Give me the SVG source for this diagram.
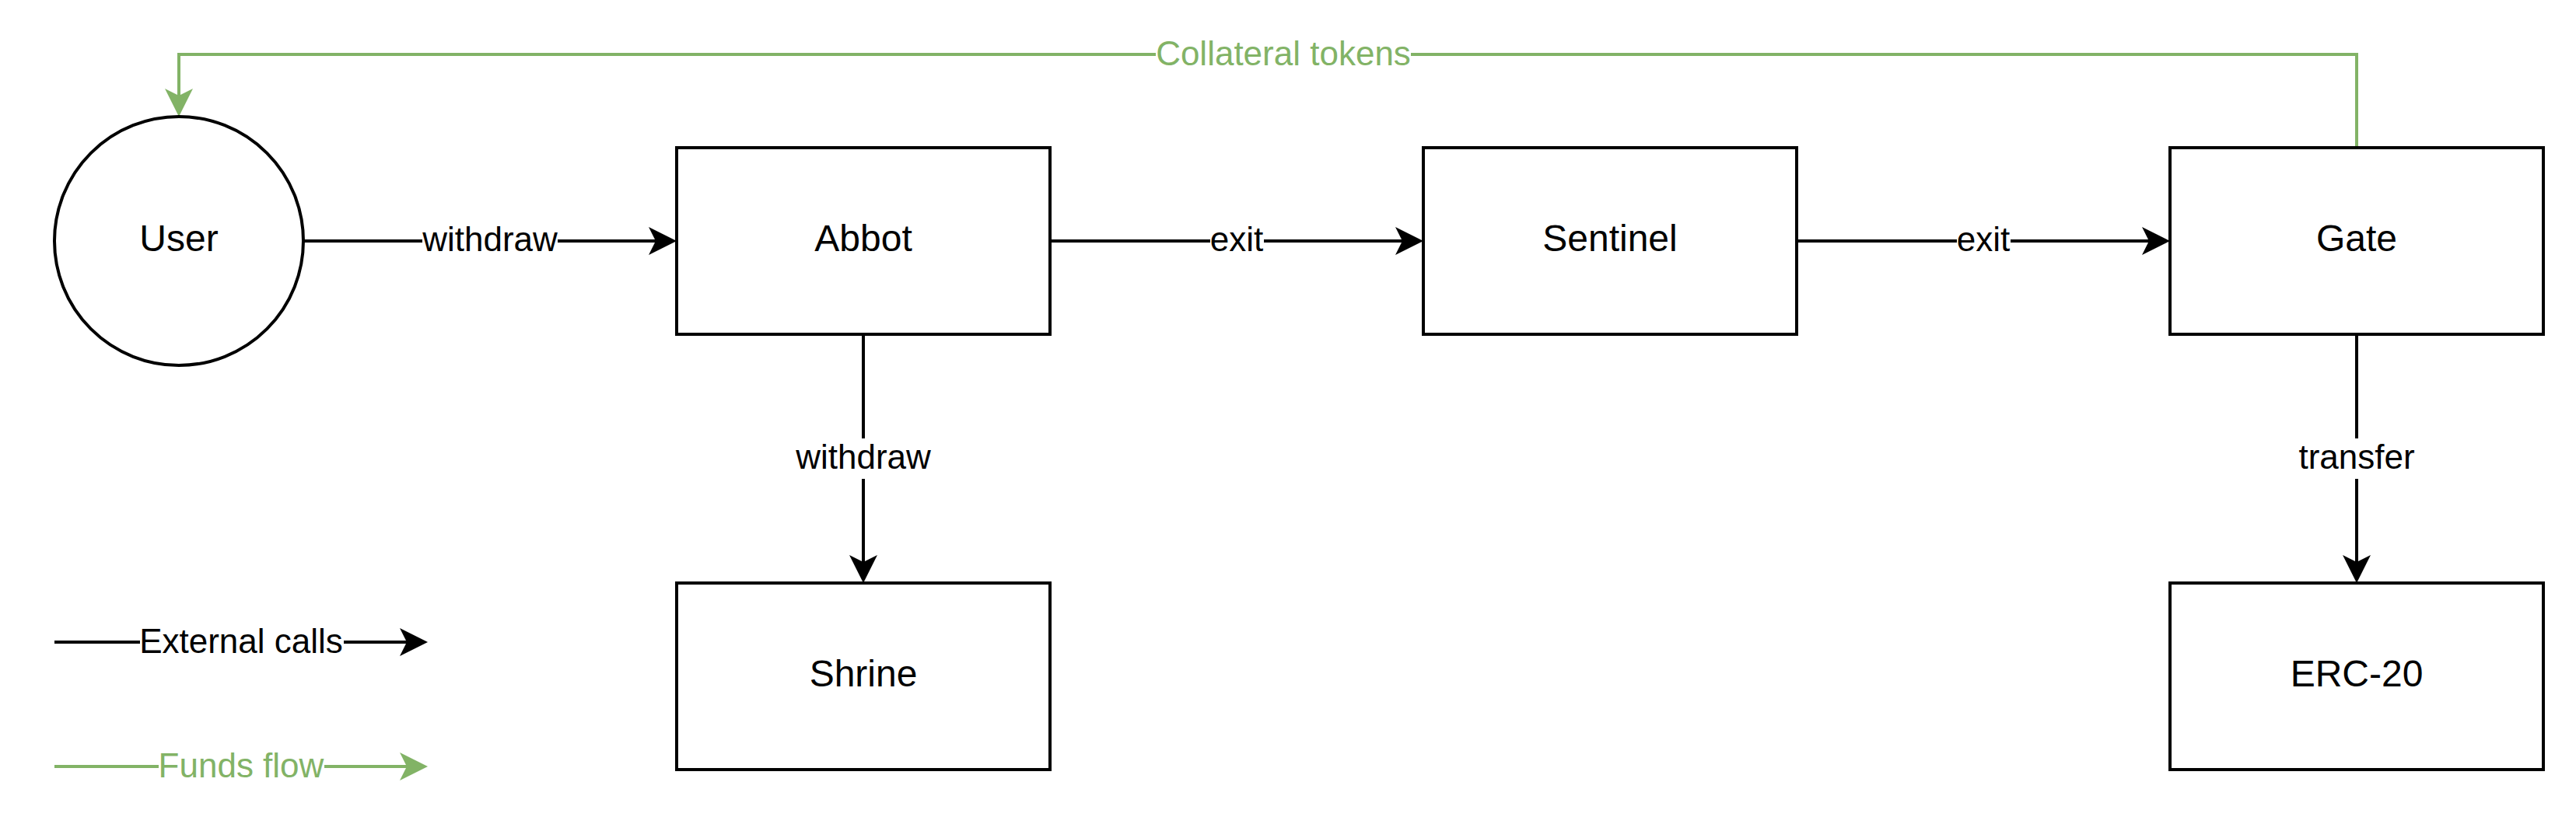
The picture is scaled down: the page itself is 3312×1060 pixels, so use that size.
<svg xmlns="http://www.w3.org/2000/svg" width="3312" height="1060" viewBox="0 0 3312 1060">
<style>
  .node { fill: #ffffff; stroke: #000000; stroke-width: 4; }
  .ntext { font-family: "Liberation Sans", Arial, sans-serif; font-size: 48px; fill: #000000; text-anchor: middle; }
  .edge { fill: none; stroke: #000000; stroke-width: 4; }
  .gedge { fill: none; stroke: #82b366; stroke-width: 4; }
  .etext { font-family: "Liberation Sans", Arial, sans-serif; font-size: 44px; fill: #000000; text-anchor: middle; }
  .gtext { font-family: "Liberation Sans", Arial, sans-serif; font-size: 44px; fill: #82b366; text-anchor: middle; }
  .lbg { fill: #ffffff; stroke: none; }
</style>
<defs>
  <marker id="arrB" markerUnits="userSpaceOnUse" markerWidth="36" markerHeight="36" viewBox="0 0 36 36" refX="9" refY="18" orient="auto">
    <path d="M0,0 L36,18 L0,36 L9,18 Z" fill="#000000"/>
  </marker>
  <marker id="arrG" markerUnits="userSpaceOnUse" markerWidth="36" markerHeight="36" viewBox="0 0 36 36" refX="9" refY="18" orient="auto">
    <path d="M0,0 L36,18 L0,36 L9,18 Z" fill="#82b366"/>
  </marker>
</defs>
<rect x="0" y="0" width="3312" height="1060" fill="#ffffff"/>

<g id="connectors">
  <!-- User -> Abbot -->
  <path class="edge" d="M390,310 L843,310" marker-end="url(#arrB)"/>
  <rect class="lbg" x="543" y="284" width="174" height="52"/>
  <text class="etext" x="630" y="323">withdraw</text>
  <!-- Abbot -> Sentinel -->
  <path class="edge" d="M1350,310 L1803,310" marker-end="url(#arrB)"/>
  <rect class="lbg" x="1556" y="284" width="69" height="52"/>
  <text class="etext" x="1590" y="323">exit</text>
  <!-- Sentinel -> Gate -->
  <path class="edge" d="M2310,310 L2763,310" marker-end="url(#arrB)"/>
  <rect class="lbg" x="2516" y="284" width="69" height="52"/>
  <text class="etext" x="2550" y="323">exit</text>
  <!-- Abbot -> Shrine -->
  <path class="edge" d="M1110,430 L1110,723" marker-end="url(#arrB)"/>
  <rect class="lbg" x="1023" y="564" width="174" height="52"/>
  <text class="etext" x="1110" y="603">withdraw</text>
  <!-- Gate -> ERC-20 -->
  <path class="edge" d="M3030,430 L3030,723" marker-end="url(#arrB)"/>
  <rect class="lbg" x="2955" y="564" width="150" height="52"/>
  <text class="etext" x="3030" y="603">transfer</text>
  <!-- Gate -> User (funds) -->
  <path class="gedge" d="M3030,190 L3030,70 L230,70 L230,123" marker-end="url(#arrG)"/>
  <rect class="lbg" x="1486" y="44" width="328" height="52"/>
  <text class="gtext" x="1650" y="84">Collateral tokens</text>
</g>

<g id="legend-external">
  <path class="edge" d="M70,826 L523,826" marker-end="url(#arrB)"/>
  <rect class="lbg" x="180" y="800" width="262" height="52"/>
  <text class="etext" x="310" y="840">External calls</text>
</g>
<g id="legend-funds">
  <path class="gedge" d="M70,986 L523,986" marker-end="url(#arrG)"/>
  <rect class="lbg" x="204" y="960" width="213" height="52"/>
  <text class="gtext" x="310" y="1000">Funds flow</text>
</g>

<g id="user">
  <circle class="node" cx="230" cy="310" r="160"/>
  <text class="ntext" x="230" y="323">User</text>
</g>
<g id="abbot">
  <rect class="node" x="870" y="190" width="480" height="240"/>
  <text class="ntext" x="1110" y="323">Abbot</text>
</g>
<g id="sentinel">
  <rect class="node" x="1830" y="190" width="480" height="240"/>
  <text class="ntext" x="2070" y="323">Sentinel</text>
</g>
<g id="gate">
  <rect class="node" x="2790" y="190" width="480" height="240"/>
  <text class="ntext" x="3030" y="323">Gate</text>
</g>
<g id="shrine">
  <rect class="node" x="870" y="750" width="480" height="240"/>
  <text class="ntext" x="1110" y="883">Shrine</text>
</g>
<g id="erc20">
  <rect class="node" x="2790" y="750" width="480" height="240"/>
  <text class="ntext" x="3030" y="883">ERC-20</text>
</g>
</svg>
